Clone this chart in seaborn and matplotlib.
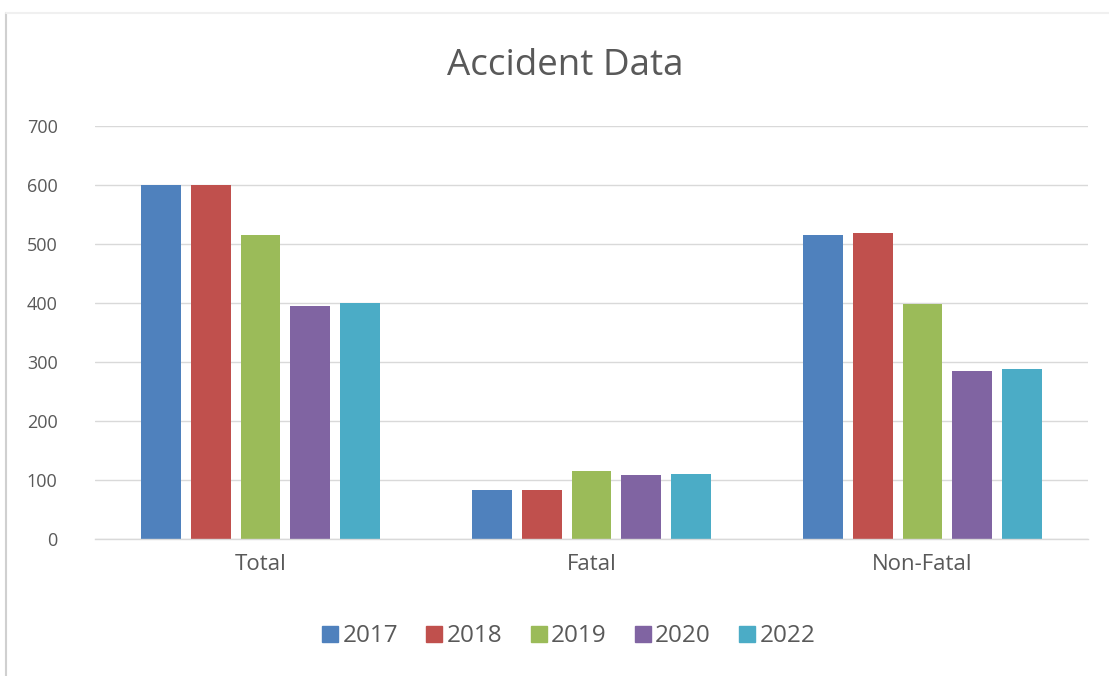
import matplotlib
matplotlib.use("Agg")
import matplotlib.pyplot as plt
import seaborn as sns
import pandas as pd
from matplotlib.lines import Line2D

categories = ["Total", "Fatal", "Non-Fatal"]
years = ["2017", "2018", "2019", "2020", "2022"]
v2017 = [600, 83, 515]
v2018 = [600, 83, 519]
v2019 = [515, 115, 399]
v2020 = [395, 108, 285]
v2022 = [400, 111, 288]
yticks = [0, 100, 200, 300, 400, 500, 600, 700]

colors = ["#4F81BD", "#C0504D", "#9BBB59", "#8064A2", "#4BACC6"]

rows = []
for yr, vals in zip(years, [v2017, v2018, v2019, v2020, v2022]):
    for c, v in zip(categories, vals):
        rows.append({"Category": c, "Year": yr, "Value": v})
df = pd.DataFrame(rows)

sns.set_theme(style="white")
plt.rcParams['font.family'] = ['Open Sans', 'DejaVu Sans']

fig = plt.figure(figsize=(11.09, 6.76), dpi=100)
ax = fig.add_axes([95/1109, 137/676, 993/1109, 413/676])

sns.barplot(data=df, x="Category", y="Value", hue="Year", order=categories,
            hue_order=years, palette=colors, width=0.755, gap=0.2,
            saturation=1, ax=ax, legend=False, linewidth=0, edgecolor="none")

ax.set_ylim(0, 700)
ax.set_xlim(-0.5, 2.5)
ax.set_yticks(yticks)
ax.yaxis.grid(True, color="#D9D9D9", linewidth=1)
ax.set_axisbelow(True)
for s in ["top", "right", "left"]:
    ax.spines[s].set_visible(False)
ax.spines["bottom"].set_color("#D9D9D9")
ax.spines["bottom"].set_linewidth(1)
ax.tick_params(axis="both", length=0, labelcolor="#595959")
ax.tick_params(axis="y", pad=27, labelsize=13)
ax.tick_params(axis="x", pad=11, labelsize=16)
ax.set_xlabel("")
ax.set_ylabel("")

fig.text(0.51, 0.903, "Accident Data", ha="center", va="center",
         fontsize=26.5, color="#595959")

handles = [Line2D([0], [0], marker="s", linestyle="", markersize=11,
                  markerfacecolor=c, markeredgecolor=c) for c in colors]
fig.legend(handles, years, loc="center", bbox_to_anchor=(0.511, 0.059),
           ncol=5, frameon=False, fontsize=17.5, labelcolor="#595959",
           handletextpad=0.0, columnspacing=1.0, handlelength=1.0)

# faint chart frame
fig.add_artist(Line2D([6/1109, 6/1109], [0, 663/676], transform=fig.transFigure,
                      color="#D0D0D0", linewidth=1.5))
fig.add_artist(Line2D([6/1109, 1], [663/676, 663/676], transform=fig.transFigure,
                      color="#F0F0F0", linewidth=1.5))

fig.savefig("out.png", dpi=100)
